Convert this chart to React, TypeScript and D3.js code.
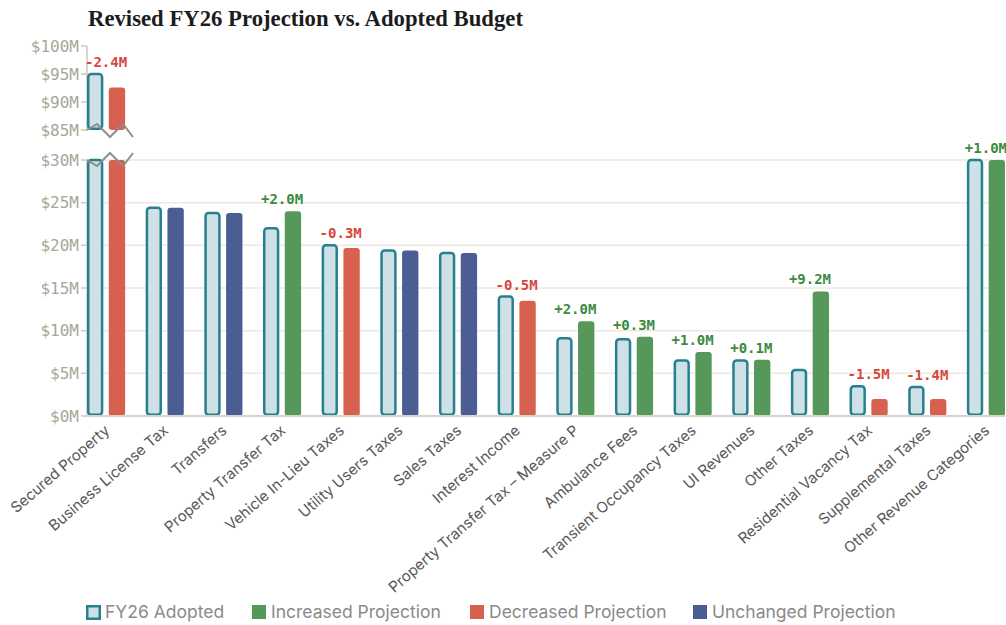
import React from "react";
import * as d3 from "d3";

const categories = [
  "Secured Property",
  "Business License Tax",
  "Transfers",
  "Property Transfer Tax",
  "Vehicle In-Lieu Taxes",
  "Utility Users Taxes",
  "Sales Taxes",
  "Interest Income",
  "Property Transfer Tax – Measure P",
  "Ambulance Fees",
  "Transient Occupancy Taxes",
  "UI Revenues",
  "Other Taxes",
  "Residential Vacancy Tax",
  "Supplemental Taxes",
  "Other Revenue Categories",
];
const adopted = [95.0, 24.4, 23.8, 22.0, 20.0, 19.4, 19.1, 14.0, 9.1, 9.0, 6.5, 6.5, 5.4, 3.5, 3.4, 30.0];
const projected = [92.6, 24.4, 23.8, 24.0, 19.7, 19.4, 19.1, 13.5, 11.1, 9.3, 7.5, 6.6, 14.6, 2.0, 2.0, 31.0];
const lowTicks = [0, 5, 10, 15, 20, 25, 30];
const highTicks = [85, 90, 95, 100];
const legendItems = ["FY26 Adopted", "Increased Projection", "Decreased Projection", "Unchanged Projection"];
const brokenCategories = ["Secured Property"];

const W = 1006;
const H = 625;
const C = {
  adoptedFill: "#cde1e6",
  adoptedStroke: "#27808f",
  inc: "#55985a",
  dec: "#d8604f",
  same: "#4a5e94",
  incText: "#3b8a3e",
  decText: "#d6473b",
  tick: "#a9a698",
  grid: "#ece9e1",
  base: "#d9d3c6",
  axis: "#cdc8ba",
  label: "#585858",
  legend: "#8a8a8a",
  brk: "#8e8e8a",
};

export default function App() {
  const x = d3.scaleBand<string>().domain(categories).range([87, 1005]).paddingInner(0.35).paddingOuter(0);
  const sub = d3.scaleBand<string>().domain(["a", "p"]).range([0, x.bandwidth()]).paddingInner(0.25);
  const yLow = d3.scaleLinear().domain([0, 30]).range([416, 160]);
  const yHigh = d3.scaleLinear().domain([85, 100]).range([130, 46]);
  const bw = sub.bandwidth();
  const fmt = d3.format("+.1f");

  const statusColor = (a: number, p: number) => (p > a + 1e-9 ? C.inc : p < a - 1e-9 ? C.dec : C.same);

  const bars: React.ReactNode[] = [];
  const labels: React.ReactNode[] = [];
  const breaks: React.ReactNode[] = [];

  categories.forEach((cat, i) => {
    const gx = x(cat)!;
    const broken = brokenCategories.includes(cat);
    const vals = [adopted[i], projected[i]];
    let topY = Infinity;
    vals.forEach((v, j) => {
      const bx = gx + sub(j === 0 ? "a" : "p")!;
      const isA = j === 0;
      const fill = isA ? C.adoptedFill : statusColor(adopted[i], projected[i]);
      const stroke = isA ? C.adoptedStroke : "none";
      const sw = isA ? 2.5 : 0;
      const inset = isA ? 1.25 : 0;
      const segs: [number, number][] = [];
      if (broken && v > 30) {
        segs.push([yLow(30), yLow(0)]);
        segs.push([yHigh(Math.min(v, 100)), yHigh(85)]);
      } else {
        segs.push([yLow(Math.min(v, 30)), yLow(0)]);
      }
      segs.forEach(([y0, y1], k) => {
        topY = Math.min(topY, y0);
        bars.push(
          <rect
            key={`b-${i}-${j}-${k}`}
            x={bx + inset}
            y={y0}
            width={bw - 2 * inset}
            height={y1 - y0 - (isA ? 1.25 : 0)}
            rx={3}
            fill={fill}
            stroke={stroke}
            strokeWidth={sw}
          />
        );
      });
    });
    const d = Math.round((projected[i] - adopted[i]) * 10) / 10;
    if (d !== 0) {
      labels.push(
        <text
          key={`l-${i}`}
          x={gx + x.bandwidth() / 2}
          y={topY - 7}
          textAnchor="middle"
          fontFamily="'DejaVu Sans Mono', monospace"
          fontWeight="bold"
          fontSize={14}
          fill={d > 0 ? C.incText : C.decText}
        >
          {fmt(d).replace("\u2212", "-") + "M"}
        </text>
      );
    }
    if (broken) {
      const zig = d3.line<[number, number]>();
      const up: [number, number][] = [
        [gx, yHigh(85)],
        [gx + 10, yHigh(85) - 6],
        [gx + 23, yHigh(85) + 7],
        [gx + 36, yHigh(85) - 6],
        [gx + 46, yHigh(85) + 7],
      ];
      const lo: [number, number][] = [
        [gx, yLow(30)],
        [gx + 10, yLow(30) + 6],
        [gx + 23, yLow(30) - 7],
        [gx + 36, yLow(30) + 6],
        [gx + 46, yLow(30) - 7],
      ];
      breaks.push(<path key={`z1-${i}`} d={zig(up)!} fill="none" stroke={C.brk} strokeWidth={2} />);
      breaks.push(<path key={`z2-${i}`} d={zig(lo)!} fill="none" stroke={C.brk} strokeWidth={2} />);
    }
  });

  const legendX = [86, 252, 470, 693];
  const legendFill = [C.adoptedFill, C.inc, C.dec, C.same];

  return (
    <svg width={W} height={H} style={{ position: "absolute", left: 0, top: 0, background: "#fff" }}>
      <text
        x={88}
        y={26}
        fontFamily="'Liberation Serif', 'DejaVu Serif', serif"
        fontWeight="bold"
        fontSize={23}
        fill="#1c1c1c"
        textLength={435}
        lengthAdjust="spacingAndGlyphs"
      >
        Revised FY26 Projection vs. Adopted Budget
      </text>

      {lowTicks.filter((t) => t > 0).map((t) => (
        <line key={`g${t}`} x1={87} x2={1005} y1={yLow(t)} y2={yLow(t)} stroke={C.grid} strokeWidth={1.5} />
      ))}
      <line x1={87} x2={87} y1={yHigh(100)} y2={yHigh(85)} stroke={C.axis} strokeWidth={1.5} />
      <line x1={87} x2={87} y1={yLow(30)} y2={yLow(0)} stroke={C.axis} strokeWidth={1.5} />
      {highTicks.map((t) => (
        <g key={`h${t}`}>
          <line x1={81} x2={87} y1={yHigh(t)} y2={yHigh(t)} stroke={C.axis} strokeWidth={1.5} />
          <text x={79} y={yHigh(t)} dy="0.35em" textAnchor="end" fontFamily="'DejaVu Sans Mono', monospace" fontSize={16} fill={C.tick}>
            {`$${t}M`}
          </text>
        </g>
      ))}
      {lowTicks.map((t) => (
        <g key={`t${t}`}>
          <line x1={81} x2={87} y1={yLow(t)} y2={yLow(t)} stroke={C.axis} strokeWidth={1.5} />
          <text x={79} y={yLow(t)} dy="0.35em" textAnchor="end" fontFamily="'DejaVu Sans Mono', monospace" fontSize={16} fill={C.tick}>
            {`$${t}M`}
          </text>
        </g>
      ))}

      {bars}
      <line x1={87} x2={1005} y1={yLow(0)} y2={yLow(0)} stroke={C.base} strokeWidth={2} />
      {breaks}
      {labels}

      {categories.map((cat) => {
        const cx = x(cat)! + x.bandwidth() / 2;
        return (
          <text
            key={`x-${cat}`}
            transform={`translate(${cx + 1},${yLow(0) + 12}) rotate(-41)`}
            textAnchor="end"
            dy="0.35em"
            fontFamily="Inter, 'Open Sans', sans-serif"
            fontSize={15}
            fill={C.label}
          >
            {cat}
          </text>
        );
      })}

      {legendItems.map((item, i) => (
        <g key={`lg-${i}`} transform={`translate(${legendX[i]},605)`}>
          <rect
            x={i === 0 ? 1.25 : 0}
            y={i === 0 ? 1.25 : 0}
            width={i === 0 ? 12.5 : 14}
            height={i === 0 ? 12.5 : 14}
            fill={legendFill[i]}
            stroke={i === 0 ? C.adoptedStroke : "none"}
            strokeWidth={2.5}
          />
          <text x={19} y={7} dy="0.36em" fontFamily="Inter, 'Open Sans', sans-serif" fontSize={17.5} fill={C.legend}>
            {item}
          </text>
        </g>
      ))}
    </svg>
  );
}
